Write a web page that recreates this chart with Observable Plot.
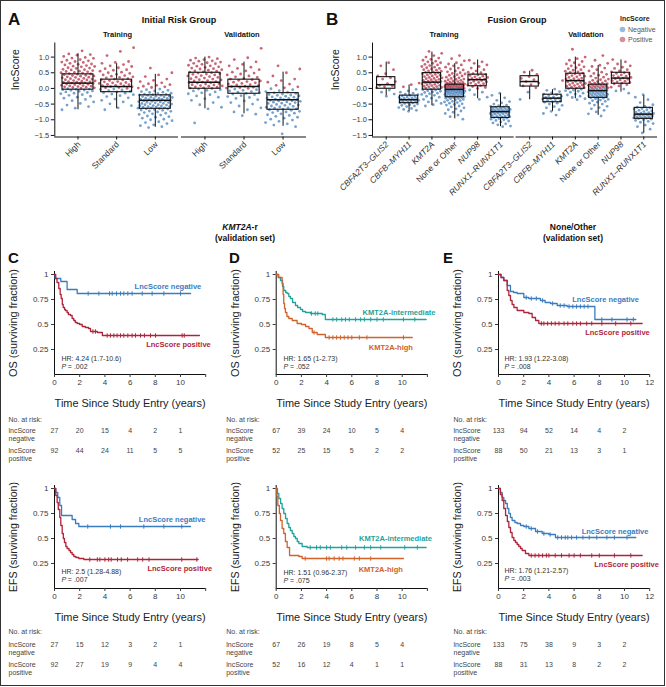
<!DOCTYPE html>
<html>
<head>
<meta charset="utf-8">
<script src="https://cdn.jsdelivr.net/npm/d3@7"></script>
<script src="https://cdn.jsdelivr.net/npm/@observablehq/plot@0.6"></script>
<style>
html,body{margin:0;padding:0;background:#fff;}
#fig{position:relative;width:666px;height:687px;overflow:hidden;background:#fff;}
#fig > svg{position:absolute;}
#border{position:absolute;left:0;top:0;width:665px;height:686px;box-sizing:border-box;border:1px solid #333;pointer-events:none;}
</style>
</head>
<body>
<div id="fig"><div id="border"></div></div>
<script>
// ---------------- Panel A data: initial risk group ----------------
const riskGroups = ["High", "Standard", "Low"];
// [lower whisker, Q1, median, Q3, upper whisker]
const riskTrainBox = [[-0.68,-0.04,0.17,0.45,1.11],[-0.65,-0.12,0.06,0.28,0.79],[-1.24,-0.65,-0.38,-0.22,0.45]];
const riskValidBox = [[-0.65,-0.01,0.20,0.50,1.00],[-0.81,-0.17,0.06,0.28,0.84],[-1.21,-0.68,-0.36,-0.15,0.52]];
const riskTrainHigh = [1.2,1.1,1.08,1.06,1.02,.99,.97,.96,.92,.9,.88,.86,.84,.83,.8,.78,.77,.75,.73,.71,.7,.69,.66,.65,.64,.61,.6,.59,.57,.55,.54,.53,.51,.5,.49,.47,.46,.45,.44,.42,.41,.4,.39,.37,.36,.35,.34,.32,.31,.3,.29,.28,.27,.25,.24,.23,.22,.21,.2,.19,.18,.17,.16,.15,.14,.13,.12,.1,.09,.08,.07,.06,.05,.04,.03,.02,.01,-.01,-.02,-.03,-.04,-.05,-.06,-.08,-.09,-.11,-.13,-.15,-.17,-.2,-.22,-.25,-.28,-.31,-.35,-.39,-.43,-.48,-.53,-.58,-.63,-.68];
const riskTrainStd = [1.3,1.18,1.05,.86,.83,.8,.76,.72,.7,.66,.63,.6,.58,.55,.52,.5,.48,.45,.43,.41,.39,.37,.35,.34,.31,.3,.28,.27,.25,.24,.22,.21,.19,.18,.16,.15,.13,.12,.1,.09,.08,.06,.05,.03,.02,0,-.02,-.03,-.05,-.07,-.09,-.11,-.13,-.15,-.18,-.2,-.23,-.26,-.3,-.34,-.38,-.43,-.49,-.55,-.62,-.68];
const riskTrainLow = [.65,.5,.43,.38,.3,.26,.22,.18,.15,.12,.1,.07,.05,.03,.01,-.02,-.04,-.06,-.08,-.1,-.12,-.13,-.15,-.16,-.18,-.19,-.2,-.21,-.22,-.22,-.24,-.25,-.26,-.27,-.28,-.29,-.31,-.31,-.32,-.33,-.35,-.35,-.36,-.38,-.38,-.39,-.4,-.41,-.42,-.43,-.44,-.45,-.46,-.48,-.48,-.49,-.5,-.52,-.52,-.53,-.55,-.55,-.56,-.58,-.58,-.59,-.6,-.62,-.62,-.63,-.64,-.65,-.66,-.67,-.69,-.7,-.72,-.73,-.75,-.77,-.79,-.81,-.83,-.85,-.88,-.9,-.92,-.95,-.98,-1.0,-1.03,-1.06,-1.09,-1.12,-1.16,-1.19,-1.22,-1.25];
const riskValidHigh = [1.0,.97,.95,.92,.9,.88,.87,.84,.82,.8,.79,.77,.74,.72,.71,.69,.67,.65,.63,.62,.6,.58,.56,.55,.53,.52,.5,.49,.47,.46,.45,.43,.41,.4,.38,.36,.35,.33,.31,.3,.28,.27,.25,.24,.22,.2,.19,.18,.17,.15,.14,.12,.11,.09,.08,.07,.05,.04,.02,.01,0,-.02,-.04,-.06,-.08,-.11,-.14,-.17,-.2,-.24,-.28,-.33,-.38,-.45,-.52,-.6,-.65,-1.1];
const riskValidStd = [1.28,.98,.92,.85,.77,.72,.68,.64,.6,.56,.52,.49,.46,.43,.4,.37,.35,.32,.3,.28,.26,.24,.22,.2,.18,.16,.14,.12,.11,.09,.07,.06,.04,.03,.01,0,-.02,-.04,-.06,-.08,-.1,-.12,-.14,-.16,-.18,-.2,-.23,-.26,-.29,-.32,-.36,-.4,-.45,-.5,-.56,-.62,-.68,-.75,-.82,-.87];
const riskValidLow = [.72,.62,.5,.4,.3,.25,.2,.14,.1,.05,.02,-.01,-.04,-.07,-.1,-.12,-.14,-.16,-.18,-.19,-.21,-.22,-.24,-.25,-.27,-.28,-.3,-.31,-.32,-.34,-.35,-.36,-.38,-.39,-.4,-.41,-.43,-.44,-.45,-.47,-.48,-.5,-.51,-.53,-.54,-.56,-.57,-.59,-.6,-.62,-.63,-.65,-.66,-.68,-.7,-.71,-.73,-.75,-.77,-.79,-.81,-.84,-.86,-.89,-.92,-.95,-.98,-1.01,-1.05,-1.09,-1.13,-1.17,-1.22,-1.45];

// ---------------- Panel B data: fusion group ----------------
const fusionGroups = ["CBFA2T3\u2013GLIS2", "CBFB\u2013MYH11", "KMT2A", "None or Other", "NUP98", "RUNX1\u2013RUNX1T1"];
const fusionItalic = [true, true, true, false, true, true];
const fusionTrainBox = [[-0.23,-0.01,0.12,0.36,0.84],[-0.73,-0.47,-0.36,-0.23,0.11],[-0.55,-0.04,0.20,0.49,1.16],[-0.97,-0.28,-0.03,0.12,0.79],[-0.33,0.07,0.28,0.44,0.91],[-1.22,-0.94,-0.74,-0.60,-0.17]];
const fusionValidBox = [[-0.36,0.06,0.22,0.39,0.55],[-0.73,-0.44,-0.31,-0.20,-0.04],[-0.33,-0.01,0.25,0.47,1.00],[-0.86,-0.30,-0.07,0.12,0.73],[-0.12,0.15,0.33,0.50,0.91],[-1.43,-0.97,-0.82,-0.62,-0.23]];
const fusionTrainPts = [
  [.82,.72,.6,.47,.4,.34,.3,.22,.15,.1,.08,.05,.02,-.05,-.12,-.18,-.25],
  [.17,.12,.05,-.03,-.08,-.12,-.15,-.18,-.2,-.22,-.24,-.26,-.27,-.29,-.3,-.31,-.33,-.34,-.35,-.36,-.37,-.38,-.4,-.41,-.42,-.44,-.45,-.46,-.48,-.5,-.52,-.54,-.56,-.58,-.61,-.64,-.67,-.7,-.73],
  [1.18,1.12,1.05,1.0,.97,.93,.9,.87,.85,.82,.8,.77,.75,.73,.7,.68,.66,.64,.62,.6,.58,.56,.55,.53,.51,.5,.48,.47,.45,.43,.42,.4,.38,.37,.35,.34,.32,.31,.29,.28,.26,.25,.23,.22,.21,.19,.18,.16,.15,.13,.12,.1,.09,.07,.06,.05,.03,.02,.01,-.01,-.02,-.04,-.05,-.07,-.09,-.11,-.13,-.15,-.17,-.19,-.22,-.25,-.28,-.31,-.35,-.39,-.43,-.48,-.52,-.56],
  [1.05,.95,.88,.82,.78,.75,.72,.68,.65,.62,.59,.56,.53,.5,.48,.46,.44,.42,.4,.38,.36,.34,.32,.3,.29,.27,.26,.24,.23,.22,.2,.19,.18,.17,.16,.15,.14,.13,.12,.12,.11,.1,.1,.09,.08,.08,.07,.06,.06,.05,.04,.04,.03,.02,.02,.01,0,0,-.01,-.02,-.02,-.03,-.04,-.04,-.05,-.06,-.06,-.07,-.08,-.08,-.09,-.1,-.1,-.11,-.12,-.12,-.13,-.14,-.15,-.15,-.16,-.17,-.18,-.19,-.2,-.2,-.21,-.22,-.23,-.24,-.25,-.26,-.27,-.28,-.29,-.3,-.31,-.32,-.33,-.35,-.36,-.38,-.39,-.41,-.43,-.45,-.47,-.49,-.51,-.53,-.56,-.59,-.62,-.65,-.68,-.72,-.76,-.8,-.85,-.9,-.98],
  [.9,.85,.8,.75,.7,.65,.6,.56,.52,.5,.47,.45,.43,.41,.39,.37,.35,.33,.32,.3,.29,.27,.25,.23,.21,.19,.17,.15,.13,.11,.09,.06,.03,0,-.05,-.12,-.2,-.28,-.35],
  [-.15,-.22,-.3,-.38,-.42,-.46,-.5,-.53,-.55,-.57,-.59,-.6,-.62,-.63,-.64,-.65,-.66,-.67,-.68,-.69,-.7,-.71,-.72,-.73,-.74,-.75,-.76,-.77,-.78,-.79,-.8,-.81,-.82,-.84,-.85,-.86,-.88,-.89,-.9,-.92,-.93,-.95,-.96,-.98,-1.0,-1.02,-1.04,-1.07,-1.1,-1.13,-1.16,-1.2,-1.22]
];
const fusionValidPts = [
  [.58,.52,.45,.38,.32,.28,.22,.17,.12,.08,.02,-.12,-.35],
  [.25,-.02,-.06,-.1,-.14,-.18,-.2,-.23,-.25,-.27,-.29,-.31,-.33,-.34,-.36,-.38,-.4,-.42,-.44,-.47,-.5,-.54,-.58,-.62,-.68,-.73,-.8,-.85],
  [1.25,1.0,.95,.9,.86,.82,.78,.75,.72,.69,.66,.63,.6,.58,.55,.53,.51,.49,.47,.45,.43,.41,.39,.37,.35,.33,.31,.3,.28,.26,.24,.23,.21,.19,.17,.16,.14,.12,.11,.09,.07,.06,.04,.02,.01,-.01,-.03,-.05,-.07,-.09,-.12,-.15,-.18,-.21,-.25,-.29,-.33,-.36],
  [1.05,.9,.8,.74,.7,.65,.6,.56,.52,.48,.45,.42,.39,.36,.33,.3,.28,.26,.24,.22,.2,.18,.17,.15,.14,.13,.12,.11,.1,.09,.08,.07,.06,.05,.04,.03,.02,.01,0,-.01,-.02,-.03,-.04,-.05,-.06,-.07,-.08,-.09,-.1,-.11,-.12,-.13,-.14,-.15,-.16,-.17,-.18,-.19,-.2,-.21,-.22,-.23,-.24,-.25,-.26,-.27,-.28,-.3,-.31,-.33,-.35,-.37,-.39,-.41,-.44,-.47,-.5,-.53,-.57,-.61,-.65,-.7,-.75,-.81,-.88],
  [.92,.85,.78,.72,.68,.64,.6,.56,.53,.5,.48,.46,.43,.41,.39,.37,.35,.33,.31,.29,.27,.25,.23,.21,.19,.17,.15,.12,.08,.04,-.02,-.08,-.15],
  [-.2,-.28,-.36,-.45,-.52,-.57,-.6,-.62,-.64,-.66,-.68,-.7,-.72,-.74,-.76,-.77,-.79,-.8,-.81,-.82,-.83,-.84,-.85,-.86,-.87,-.88,-.9,-.91,-.92,-.93,-.94,-.95,-.96,-.98,-1.0,-1.02,-1.05,-1.08,-1.12,-1.17,-1.22,-1.3,-1.42]
];
const scoreTicks = [-1.5, -1.0, -0.5, 0.0, 0.5, 1.0];
const scoreClasses = ["Negative", "Positive"];
const scoreColors = ["#3575b5", "#ac1f35"];

// ---------------- Kaplan-Meier data ----------------
const timeTicks = [0, 2, 4, 6, 8, 10, 12];
const riskTimes = [0, 2, 4, 6, 8, 10];
// C: KMT2A-r, lncScore
const cOsNegT = [0,.05,.5,1.0,1.8,10.8], cOsNegS = [1,.96,.93,.85,.81,.81];
const cOsNegCens = [2.67,3.52,4.37,4.58,4.92,5.24,5.5,5.82,6.16,6.96,7.75,8.68,10.0];
const cOsPosT = [0,.1,.2,.34,.45,.53,.62,.69,.8,.87,1.0,1.1,1.27,1.4,1.53,1.65,1.8,2.0,2.2,2.45,2.7,2.86,3.4,3.8,11.5];
const cOsPosS = [1,.96,.92,.86,.8,.76,.7,.67,.65,.64,.62,.6,.59,.56,.54,.52,.51,.5,.48,.47,.46,.43,.42,.39,.39];
const cOsPosCens = [3.05,3.25,4.18,4.44,4.71,4.97,5.24,5.5,5.82,6.16,6.43,6.83,7.14,7.62,8.02,10.13,10.3];
const cEfsNegT = [0,.1,.26,.42,.56,1.4,1.67,1.93,10.8], cEfsNegS = [1,.96,.91,.83,.73,.69,.65,.62,.62];
const cEfsNegCens = [2.64,4.44,5.24,7.09,8.68,10.1];
const cEfsPosT = [0,.1,.21,.3,.42,.5,.61,.7,.79,.9,1.0,1.15,1.27,1.4,1.53,1.7,1.93,2.33,11.4];
const cEfsPosS = [1,.93,.86,.79,.71,.63,.55,.5,.46,.42,.4,.38,.36,.34,.32,.31,.3,.29,.29];
const cEfsPosCens = [2.8,3.4,3.6,4.0,4.3,4.5,5.0,5.3,5.8,6.6,7.0,7.5,10.1,11.3];
// D: KMT2A-r, KMT2A risk groups
const dOsIntT = [0,.15,.34,.5,.6,.75,.87,1.0,1.13,1.3,1.53,1.7,1.93,2.1,2.33,2.73,3.65,3.9,11.9];
const dOsIntS = [1,.97,.94,.88,.84,.82,.81,.78,.76,.72,.69,.67,.65,.63,.62,.61,.6,.55,.55];
const dOsIntCens = [2.8,3.1,3.3,4.5,4.8,5.2,5.5,5.8,6.3,6.7,7.0,7.5,8.0,8.5,10.1,11.0];
const dOsHighT = [0,.2,.47,.55,.6,.66,.73,.85,1.0,1.27,1.66,2.0,2.33,2.6,2.86,3.25,3.9,10.8];
const dOsHighS = [1,.97,.91,.8,.71,.66,.62,.58,.56,.54,.51,.5,.48,.46,.42,.4,.37,.37];
const dOsHighCens = [3.0,4.2,4.5,4.8,5.1,5.4,5.7,6.0,6.6,7.2,10.1];
const dEfsIntT = [0,.1,.21,.35,.47,.6,.74,.87,1.0,1.13,1.27,1.4,1.53,1.67,1.8,2.06,2.46,11.9];
const dEfsIntS = [1,.95,.9,.85,.8,.75,.7,.65,.61,.58,.55,.52,.5,.47,.45,.42,.41,.41];
const dEfsIntCens = [2.7,3.2,3.5,4.0,4.3,5.2,5.6,6.3,7.0,7.5,8.3,10.2,11.2];
const dEfsHighT = [0,.06,.13,.25,.34,.47,.6,.73,.87,1.06,1.8,2.06,10.1];
const dEfsHighS = [1,.92,.83,.75,.68,.6,.55,.47,.41,.33,.32,.3,.3];
const dEfsHighCens = [2.3,4.0,4.2,4.6,5.0,5.3,6.2,6.6,7.5];
// E: None/Other, lncScore
const eOsNegT = [0,.2,.42,.69,.95,1.2,1.48,2.01,2.4,2.8,3.33,3.7,4.13,4.66,5.45,7.65,10.9];
const eOsNegS = [1,.97,.94,.89,.83,.82,.81,.77,.76,.76,.74,.72,.71,.69,.68,.55,.55];
const eOsNegCens = [2.2,2.6,3.0,3.5,4.3,4.9,5.2,5.6,5.9,6.2,6.5,6.8,7.1,8.2,9.0,10.2,10.7];
const eOsPosT = [0,.2,.42,.69,.82,.95,1.08,1.22,1.48,2.01,2.41,2.67,2.94,3.2,11.4];
const eOsPosS = [1,.97,.94,.84,.79,.74,.7,.67,.64,.62,.61,.57,.54,.51,.51];
const eOsPosCens = [3.4,3.6,3.9,4.2,4.5,4.8,5.2,5.5,5.9,6.2,6.5,7.0,7.4,8.2,9.3,10.5];
const eEfsNegT = [0,.15,.29,.42,.56,.7,.82,.95,1.08,1.3,1.48,1.75,2.01,2.41,2.94,3.47,4.0,4.52,10.9];
const eEfsNegS = [1,.96,.91,.88,.85,.8,.75,.71,.68,.66,.65,.63,.62,.6,.57,.55,.54,.51,.51];
const eEfsNegCens = [2.2,2.6,3.1,3.6,4.1,4.7,5.0,5.3,5.5,5.8,6.2,6.7,7.2,7.8,8.6,9.2,10.2];
const eEfsPosT = [0,.15,.29,.42,.56,.7,.82,.95,1.08,1.22,1.35,1.48,1.61,1.75,1.88,2.14,2.41,11.4];
const eEfsPosS = [1,.94,.88,.8,.73,.67,.61,.56,.51,.48,.46,.44,.42,.4,.38,.35,.33,.33];
const eEfsPosCens = [2.6,2.9,3.2,3.5,3.8,4.0,4.5,5.0,5.6,6.0,6.5,7.4,8.0,9.2,10.5];
// numbers at risk
const cOsRiskNeg = [27,20,15,4,2,1], cOsRiskPos = [92,44,24,11,5,5];
const dOsRiskNeg = [67,39,24,10,5,4], dOsRiskPos = [52,25,15,5,2,2];
const eOsRiskNeg = [133,94,52,14,4,2], eOsRiskPos = [88,50,21,13,3,1];
const cEfsRiskNeg = [27,15,12,3,2,1], cEfsRiskPos = [92,27,19,9,4,4];
const dEfsRiskNeg = [67,26,19,8,5,4], dEfsRiskPos = [52,16,12,4,1,1];
const eEfsRiskNeg = [133,75,38,9,3,2], eEfsRiskPos = [88,31,13,8,2,2];
const kmBlue = "#3a7cc0", kmRed = "#b0243a", kmTeal = "#1fa39c", kmOrange = "#d0622b";

// ---------------- rendering ----------------
const FONT = "'Liberation Sans', Arial, Helvetica, sans-serif";
const fig = document.getElementById("fig");
function place(svg, left, top) {
  svg.style.position = "absolute";
  svg.style.left = left + "px";
  svg.style.top = top + "px";
  svg.style.maxWidth = "none";
  fig.appendChild(svg);
  return svg;
}
function squeeze(svg, cls, len) {
  svg.querySelectorAll("g." + cls + " text").forEach(t => {
    t.setAttribute("textLength", len);
    t.setAttribute("lengthAdjust", "spacingAndGlyphs");
  });
}
const baseStyle = {background: "transparent", fontFamily: FONT, fontSize: "7.5px", color: "#3a3a3a", overflow: "visible"};

const yDom = [-1.55, 1.45];
function boxChart(o) {
  const n = o.cats.length;
  const pts = [];
  o.points.forEach((arr, ci) => arr.forEach((v, i) => {
    const u = ((i + 1) * 0.6180339887 + ci * 0.37) % 1;
    pts.push({x: ci + (u - 0.5) * 0.9, y: v, g: v >= 0 ? "Positive" : "Negative"});
  }));
  const boxes = o.box.map((b, ci) => ({c: ci, lo: b[0], q1: b[1], med: b[2], q3: b[3], hi: b[4]}));
  const labs = o.cats.map((label, c) => ({c, label, it: o.italic ? o.italic[c] : false}));
  const marks = [
    Plot.dot(pts, {x: "x", y: "y", r: 1.4, fill: "g", fillOpacity: 0.68, stroke: "none"}),
    Plot.ruleX(boxes, {x: "c", y1: "lo", y2: "q1", stroke: "#111", strokeWidth: 1}),
    Plot.ruleX(boxes, {x: "c", y1: "q3", y2: "hi", stroke: "#111", strokeWidth: 1}),
    Plot.rect(boxes, {x1: d => d.c - 0.4, x2: d => d.c + 0.4, y1: "q1", y2: "q3", fill: "none", stroke: "#111", strokeWidth: 1.1}),
    Plot.ruleY(boxes, {y: "med", x1: d => d.c - 0.4, x2: d => d.c + 0.4, stroke: "#111", strokeWidth: 1.5}),
    Plot.ruleY([yDom[0]], {stroke: "#111", strokeWidth: 1}),
    Plot.axisX({ticks: d3.range(n), tickFormat: () => "", tickSize: 3, stroke: "#111", label: null}),
    Plot.text(labs.filter(d => !d.it), {x: "c", text: "label", frameAnchor: "bottom", dx: o.ldx, dy: o.ldy, rotate: -45, textAnchor: "end", fontSize: o.lfs, fill: "#333"}),
    Plot.text(labs.filter(d => d.it), {x: "c", text: "label", frameAnchor: "bottom", dx: o.ldx, dy: o.ldy, rotate: -45, textAnchor: "end", fontSize: o.lfs, fill: "#333", fontStyle: "italic"})
  ];
  if (o.yAxis) {
    marks.push(
      Plot.ruleX([-0.6], {stroke: "#111", strokeWidth: 1}),
      Plot.axisY({ticks: scoreTicks, tickFormat: d3.format(".1f"), tickSize: 3.5, tickPadding: 2, fontSize: 7.5, stroke: "#111", label: null}),
      Plot.text(["lncScore"], {frameAnchor: "left", dx: o.ylabDx, rotate: -90, fontSize: 10.5, fill: "#222"})
    );
  }
  return Plot.plot({
    width: o.width, height: o.height,
    marginLeft: o.ml, marginRight: o.mr, marginTop: 42.5, marginBottom: o.height - 136.5,
    x: {domain: [-0.6, n - 1 + 0.6], axis: null},
    y: {domain: yDom, axis: null},
    color: {domain: scoreClasses, range: scoreColors},
    style: baseStyle,
    marks
  });
}

// Panel A
place(boxChart({cats: riskGroups, box: riskTrainBox, points: [riskTrainHigh, riskTrainStd, riskTrainLow], yAxis: true,
  width: 182, height: 200, ml: 54.3, mr: 4, ldx: 3, ldy: 8, lfs: 8.5, ylabDx: -39}), 0, 0);
place(boxChart({cats: riskGroups, box: riskValidBox, points: [riskValidHigh, riskValidStd, riskValidLow], yAxis: false,
  width: 133, height: 200, ml: 3, mr: 5, ldx: 3, ldy: 8, lfs: 8.5}), 178, 0);
// Panel B
place(boxChart({cats: fusionGroups, italic: fusionItalic, box: fusionTrainBox, points: fusionTrainPts, yAxis: true,
  width: 190, height: 215, ml: 42, mr: 6.3, ldx: 3, ldy: 8, lfs: 8.5, ylabDx: -37}), 330, 0);
place(boxChart({cats: fusionGroups, italic: fusionItalic, box: fusionValidBox, points: fusionValidPts, yAxis: false,
  width: 150, height: 215, ml: 3.5, mr: 5, ldx: 3, ldy: 8, lfs: 8.5}), 512, 0);

// Kaplan-Meier charts
function stepAt(ts, ss, t) { let v = ss[0]; for (let i = 0; i < ts.length; i++) if (ts[i] <= t) v = ss[i]; return v; }
const censorSymbol = {draw(ctx, size) { const h = Math.sqrt(size / Math.PI); ctx.moveTo(0, -h); ctx.lineTo(0, h); }};
const X_TITLE_LEN = 151;
function km(o) {
  const marks = [
    Plot.ruleX([0], {stroke: "#111", strokeWidth: 1}),
    Plot.ruleY([0], {stroke: "#111", strokeWidth: 1}),
    Plot.axisY({ticks: [0.25, 0.5, 0.75, 1], tickFormat: d => d === 1 ? "1" : String(d), tickSize: 3, tickPadding: 3, fontSize: 8, label: null}),
    Plot.axisX({ticks: timeTicks, tickFormat: d => (d === 12 && !o.show12) ? "" : String(d), tickSize: 3, tickPadding: 2, fontSize: 8, label: null}),
    Plot.text([o.yLabel], {frameAnchor: "left", dx: -41, dy: o.yLen / 2, rotate: -90, textAnchor: "start", fontSize: 11.5, fill: "#222", className: "ytitle"}),
    Plot.text(["Time Since Study Entry (years)"], {frameAnchor: "bottom", dx: -X_TITLE_LEN / 2, dy: 32, textAnchor: "start", fontSize: 11.5, fill: "#222", className: "xtitle"})
  ];
  o.curves.forEach(c => {
    const rows = c.t.map((t, i) => ({t, s: c.s[i]}));
    marks.push(Plot.line(rows, {x: "t", y: "s", curve: "step-after", stroke: c.color, strokeWidth: 1.3}));
    marks.push(Plot.dot(c.cens.map(t => ({t, s: stepAt(c.t, c.s, t)})), {x: "t", y: "s", symbol: censorSymbol, r: 2.2, stroke: c.color, strokeWidth: 1, fill: "none"}));
    marks.push(Plot.text([c.label], {x: c.lx, y: c.ly, fill: c.color, fontWeight: "bold", fontSize: 7.5}));
  });
  marks.push(
    Plot.text([o.hr], {x: o.hx, y: o.hy, textAnchor: "start", fontSize: 7, fill: "#333"}),
    Plot.text(["P"], {x: o.hx, y: o.hy - 0.085, textAnchor: "start", fontSize: 7, fill: "#333", fontStyle: "italic"}),
    Plot.text([" = " + o.p], {x: o.hx, y: o.hy - 0.085, dx: 4.5, textAnchor: "start", fontSize: 7, fill: "#333"}),
    Plot.text(["No. at risk:"], {frameAnchor: "bottom-left", dx: o.rdx, dy: o.rdy0, textAnchor: "start", fontSize: 7, fill: "#444"}),
    Plot.text(["lncScore"], {frameAnchor: "bottom-left", dx: o.rdx, dy: 58, textAnchor: "start", fontSize: 7, fill: "#444"}),
    Plot.text(["negative"], {frameAnchor: "bottom-left", dx: o.rdx, dy: 66, textAnchor: "start", fontSize: 7, fill: "#444"}),
    Plot.text(["lncScore"], {frameAnchor: "bottom-left", dx: o.rdx, dy: 78, textAnchor: "start", fontSize: 7, fill: "#444"}),
    Plot.text(["positive"], {frameAnchor: "bottom-left", dx: o.rdx, dy: 86, textAnchor: "start", fontSize: 7, fill: "#444"}),
    Plot.text(o.riskNeg, {x: (d, i) => riskTimes[i], text: d => String(d), frameAnchor: "bottom", dy: 58, fontSize: 7, fill: "#444"}),
    Plot.text(o.riskPos, {x: (d, i) => riskTimes[i], text: d => String(d), frameAnchor: "bottom", dy: 78, fontSize: 7, fill: "#444"})
  );
  const svg = Plot.plot({
    width: o.width, height: o.height,
    marginLeft: o.ml, marginRight: o.width - o.ml - 151.2, marginTop: 11, marginBottom: o.height - 114,
    x: {domain: [0, 12], axis: null},
    y: {domain: [0, 1.03], axis: null},
    style: baseStyle,
    marks
  });
  squeeze(svg, "ytitle", o.yLen);
  squeeze(svg, "xtitle", X_TITLE_LEN);
  return svg;
}
const rows = [{top: 260, height: 205, yLabel: "OS (surviving fraction)", rdy0: 47, yLen: 108}, {top: 474, height: 212, yLabel: "EFS (surviving fraction)", rdy0: 45, yLen: 110}];
// C
place(km({...rows[0], width: 220, ml: 54, rdx: -46, show12: false,
  curves: [
    {t: cOsNegT, s: cOsNegS, cens: cOsNegCens, color: kmBlue, label: "LncScore negative", lx: 9.0, ly: 0.88},
    {t: cOsPosT, s: cOsPosS, cens: cOsPosCens, color: kmRed, label: "LncScore positive", lx: 9.84, ly: 0.30}],
  hr: "HR: 4.24 (1.7-10.6)", p: ".002", hx: 0.55, hy: 0.16, riskNeg: cOsRiskNeg, riskPos: cOsRiskPos}), 0, rows[0].top);
place(km({...rows[1], width: 220, ml: 54, rdx: -46, show12: false,
  curves: [
    {t: cEfsNegT, s: cEfsNegS, cens: cEfsNegCens, color: kmBlue, label: "LncScore negative", lx: 9.34, ly: 0.69},
    {t: cEfsPosT, s: cEfsPosS, cens: cEfsPosCens, color: kmRed, label: "LncScore positive", lx: 9.94, ly: 0.20}],
  hr: "HR: 2.5 (1.28-4.88)", p: ".007", hx: 0.55, hy: 0.17, riskNeg: cEfsRiskNeg, riskPos: cEfsRiskPos}), 0, rows[1].top);
// D
place(km({...rows[0], width: 220, ml: 53.7, rdx: -50, show12: false,
  curves: [
    {t: dOsIntT, s: dOsIntS, cens: dOsIntCens, color: kmTeal, label: "KMT2A-intermediate", lx: 9.75, ly: 0.62},
    {t: dOsHighT, s: dOsHighS, cens: dOsHighCens, color: kmOrange, label: "KMT2A-high", lx: 9.1, ly: 0.27}],
  hr: "HR: 1.65 (1-2.73)", p: ".052", hx: 0.58, hy: 0.16, riskNeg: dOsRiskNeg, riskPos: dOsRiskPos}), 222, rows[0].top);
place(km({...rows[1], width: 220, ml: 53.7, rdx: -50, show12: false,
  curves: [
    {t: dEfsIntT, s: dEfsIntS, cens: dEfsIntCens, color: kmTeal, label: "KMT2A-intermediate", lx: 9.47, ly: 0.50},
    {t: dEfsHighT, s: dEfsHighS, cens: dEfsHighCens, color: kmOrange, label: "KMT2A-high", lx: 8.3, ly: 0.19}],
  hr: "HR: 1.51 (0.96-2.37)", p: ".075", hx: 0.58, hy: 0.16, riskNeg: dEfsRiskNeg, riskPos: dEfsRiskPos}), 222, rows[1].top);
// E
place(km({...rows[0], width: 222, ml: 54, rdx: -45, show12: true,
  curves: [
    {t: eOsNegT, s: eOsNegS, cens: eOsNegCens, color: kmBlue, label: "LncScore negative", lx: 8.5, ly: 0.75},
    {t: eOsPosT, s: eOsPosS, cens: eOsPosCens, color: kmRed, label: "LncScore positive", lx: 9.44, ly: 0.42}],
  hr: "HR: 1.93 (1.22-3.08)", p: ".008", hx: 0.48, hy: 0.16, riskNeg: eOsRiskNeg, riskPos: eOsRiskPos}), 444, rows[0].top);
place(km({...rows[1], width: 222, ml: 54, rdx: -45, show12: true,
  curves: [
    {t: eEfsNegT, s: eEfsNegS, cens: eEfsNegCens, color: kmBlue, label: "LncScore negative", lx: 9.25, ly: 0.57},
    {t: eEfsPosT, s: eEfsPosS, cens: eEfsPosCens, color: kmRed, label: "LncScore positive", lx: 10.16, ly: 0.24}],
  hr: "HR: 1.76 (1.21-2.57)", p: ".003", hx: 0.48, hy: 0.18, riskNeg: eEfsRiskNeg, riskPos: eEfsRiskPos}), 444, rows[1].top);

// titles, panel letters, legend
const ov = d3.create("svg").attr("width", 666).attr("height", 687)
  .style("position", "absolute").style("left", "0px").style("top", "0px").style("pointer-events", "none")
  .attr("font-family", FONT);
function txt(x, y, s, size, weight, anchor, fill) {
  return ov.append("text").attr("x", x).attr("y", y).attr("font-size", size).attr("font-weight", weight || "normal")
    .attr("text-anchor", anchor || "start").attr("fill", fill || "#111").text(s);
}
txt(8, 25, "A", 17, "bold");
txt(326, 25, "B", 17, "bold");
txt(8, 263, "C", 15, "bold");
txt(229, 263, "D", 15, "bold");
txt(443, 263, "E", 15, "bold");
txt(179, 23, "Initial Risk Group", 9, "bold", "middle");
txt(517, 23, "Fusion Group", 9, "bold", "middle");
txt(117.5, 37, "Training", 7.5, "bold", "middle");
txt(242, 37, "Validation", 7.5, "bold", "middle");
txt(444, 37, "Training", 7.5, "bold", "middle");
txt(586, 37, "Validation", 7.5, "bold", "middle");
const k = ov.append("text").attr("x", 240).attr("y", 230).attr("font-size", 8.5).attr("font-weight", "bold").attr("text-anchor", "middle").attr("fill", "#111");
k.append("tspan").attr("font-style", "italic").text("KMT2A");
k.append("tspan").text("-r");
txt(245, 241, "(validation set)", 8.5, "bold", "middle");
txt(573, 230, "None/Other", 8.5, "bold", "middle");
txt(573, 241, "(validation set)", 8.5, "bold", "middle");
txt(620, 21, "lncScore", 7, "bold", "start", "#222");
scoreClasses.forEach((c, i) => {
  ov.append("circle").attr("cx", 622.5).attr("cy", 29.5 + i * 10).attr("r", 2.8).attr("fill", scoreColors[i]).attr("fill-opacity", 0.5);
  txt(628, 32 + i * 10, c, 7, "normal", "start", "#555");
});
fig.appendChild(ov.node());
</script>
</body>
</html>
